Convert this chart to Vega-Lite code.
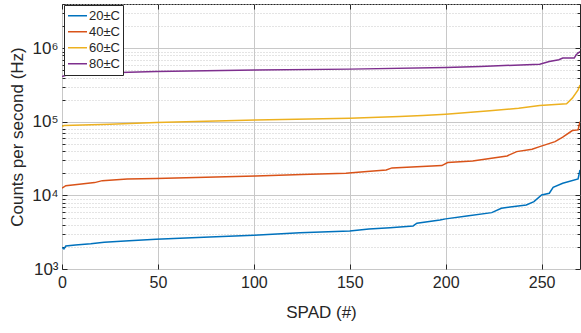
{
  "$schema": "https://vega.github.io/schema/vega-lite/v6.json",
  "autosize": {"type": "none"},
  "width": 518,
  "height": 265,
  "padding": {"left": 62, "top": 4, "right": 1, "bottom": 64},
  "background": "white",
  "config": {
    "font": "Liberation Sans",
    "view": {"stroke": "#262626", "strokeWidth": 1}
  },
  "data": {"values": [
    {"spad": 0, "cps": 1973, "temp": "20±C"},
    {"spad": 1, "cps": 1872, "temp": "20±C"},
    {"spad": 2, "cps": 2055, "temp": "20±C"},
    {"spad": 7, "cps": 2120, "temp": "20±C"},
    {"spad": 15, "cps": 2200, "temp": "20±C"},
    {"spad": 22, "cps": 2308, "temp": "20±C"},
    {"spad": 35, "cps": 2420, "temp": "20±C"},
    {"spad": 49, "cps": 2536, "temp": "20±C"},
    {"spad": 77, "cps": 2725, "temp": "20±C"},
    {"spad": 100, "cps": 2880, "temp": "20±C"},
    {"spad": 124, "cps": 3118, "temp": "20±C"},
    {"spad": 150, "cps": 3288, "temp": "20±C"},
    {"spad": 160, "cps": 3500, "temp": "20±C"},
    {"spad": 171, "cps": 3650, "temp": "20±C"},
    {"spad": 183, "cps": 3846, "temp": "20±C"},
    {"spad": 185, "cps": 4188, "temp": "20±C"},
    {"spad": 197, "cps": 4643, "temp": "20±C"},
    {"spad": 200, "cps": 4800, "temp": "20±C"},
    {"spad": 211, "cps": 5260, "temp": "20±C"},
    {"spad": 224, "cps": 5835, "temp": "20±C"},
    {"spad": 229, "cps": 6700, "temp": "20±C"},
    {"spad": 242, "cps": 7430, "temp": "20±C"},
    {"spad": 246, "cps": 8240, "temp": "20±C"},
    {"spad": 250, "cps": 10160, "temp": "20±C"},
    {"spad": 254, "cps": 10720, "temp": "20±C"},
    {"spad": 256, "cps": 12900, "temp": "20±C"},
    {"spad": 261, "cps": 14650, "temp": "20±C"},
    {"spad": 269, "cps": 16760, "temp": "20±C"},
    {"spad": 270, "cps": 22230, "temp": "20±C"},

    {"spad": 0, "cps": 12530, "temp": "40±C"},
    {"spad": 2, "cps": 13590, "temp": "40±C"},
    {"spad": 9, "cps": 14200, "temp": "40±C"},
    {"spad": 17, "cps": 14940, "temp": "40±C"},
    {"spad": 21, "cps": 15890, "temp": "40±C"},
    {"spad": 34, "cps": 16760, "temp": "40±C"},
    {"spad": 49, "cps": 16940, "temp": "40±C"},
    {"spad": 75, "cps": 17700, "temp": "40±C"},
    {"spad": 101, "cps": 18400, "temp": "40±C"},
    {"spad": 125, "cps": 19200, "temp": "40±C"},
    {"spad": 148, "cps": 20040, "temp": "40±C"},
    {"spad": 159, "cps": 21080, "temp": "40±C"},
    {"spad": 169, "cps": 22230, "temp": "40±C"},
    {"spad": 172, "cps": 23660, "temp": "40±C"},
    {"spad": 198, "cps": 25450, "temp": "40±C"},
    {"spad": 201, "cps": 27940, "temp": "40±C"},
    {"spad": 214, "cps": 29440, "temp": "40±C"},
    {"spad": 223, "cps": 31700, "temp": "40±C"},
    {"spad": 232, "cps": 34450, "temp": "40±C"},
    {"spad": 237, "cps": 39400, "temp": "40±C"},
    {"spad": 245, "cps": 42500, "temp": "40±C"},
    {"spad": 249, "cps": 46100, "temp": "40±C"},
    {"spad": 257, "cps": 53900, "temp": "40±C"},
    {"spad": 261, "cps": 61900, "temp": "40±C"},
    {"spad": 266, "cps": 76200, "temp": "40±C"},
    {"spad": 269, "cps": 77800, "temp": "40±C"},
    {"spad": 270, "cps": 100900, "temp": "40±C"},

    {"spad": 0, "cps": 86300, "temp": "60±C"},
    {"spad": 1, "cps": 89100, "temp": "60±C"},
    {"spad": 25, "cps": 93000, "temp": "60±C"},
    {"spad": 49, "cps": 97800, "temp": "60±C"},
    {"spad": 75, "cps": 102000, "temp": "60±C"},
    {"spad": 101, "cps": 106400, "temp": "60±C"},
    {"spad": 150, "cps": 112300, "temp": "60±C"},
    {"spad": 176, "cps": 118000, "temp": "60±C"},
    {"spad": 188, "cps": 121800, "temp": "60±C"},
    {"spad": 200, "cps": 127200, "temp": "60±C"},
    {"spad": 223, "cps": 141300, "temp": "60±C"},
    {"spad": 238, "cps": 153600, "temp": "60±C"},
    {"spad": 249, "cps": 166700, "temp": "60±C"},
    {"spad": 263, "cps": 175800, "temp": "60±C"},
    {"spad": 266, "cps": 210000, "temp": "60±C"},
    {"spad": 269, "cps": 272000, "temp": "60±C"},
    {"spad": 270, "cps": 318000, "temp": "60±C"},

    {"spad": 0, "cps": 413000, "temp": "80±C"},
    {"spad": 2, "cps": 431000, "temp": "80±C"},
    {"spad": 16, "cps": 459000, "temp": "80±C"},
    {"spad": 49, "cps": 484000, "temp": "80±C"},
    {"spad": 101, "cps": 505000, "temp": "80±C"},
    {"spad": 150, "cps": 521000, "temp": "80±C"},
    {"spad": 200, "cps": 548000, "temp": "80±C"},
    {"spad": 218, "cps": 565000, "temp": "80±C"},
    {"spad": 249, "cps": 609000, "temp": "80±C"},
    {"spad": 254, "cps": 661000, "temp": "80±C"},
    {"spad": 259, "cps": 698000, "temp": "80±C"},
    {"spad": 261, "cps": 736000, "temp": "80±C"},
    {"spad": 267, "cps": 736000, "temp": "80±C"},
    {"spad": 268, "cps": 816000, "temp": "80±C"},
    {"spad": 270, "cps": 906000, "temp": "80±C"}
  ]},
  "resolve": {"axis": {"x": "independent", "y": "independent"}},
  "layer": [
    {
      "mark": {"type": "line", "strokeWidth": 1.5, "clip": true},
      "encoding": {
        "x": {
          "field": "spad", "type": "quantitative",
          "scale": {"domain": [0, 270], "nice": false, "zero": false},
          "axis": {
            "values": [0, 50, 100, 150, 200, 250],
            "title": "SPAD (#)",
            "titleFontSize": 17, "titleFontWeight": "normal", "titleColor": "#262626",
            "titlePadding": 14,
            "labelFontSize": 16, "labelColor": "#262626", "labelPadding": 10,
            "labelFlush": false,
            "domain": false,
            "tickSize": -5, "tickColor": "#262626",
            "grid": true, "gridColor": "#c8c8c8", "gridWidth": 1
          }
        },
        "y": {
          "field": "cps", "type": "quantitative",
          "scale": {"type": "log", "domain": [1000, 4000000], "nice": false},
          "axis": {
            "values": [1000, 2000, 3000, 4000, 5000, 6000, 7000, 8000, 9000,
                       10000, 20000, 30000, 40000, 50000, 60000, 70000, 80000, 90000,
                       100000, 200000, 300000, 400000, 500000, 600000, 700000, 800000, 900000,
                       1000000, 2000000, 3000000, 4000000],
            "labelExpr": "datum.value == 1000 ? '10³' : datum.value == 10000 ? '10⁴' : datum.value == 100000 ? '10⁵' : datum.value == 1000000 ? '10⁶' : ''",
            "title": "Counts per second (Hz)",
            "titleFontSize": 17, "titleFontWeight": "normal", "titleColor": "#262626",
            "titlePadding": 5,
            "labelFontSize": 17, "labelColor": "#262626", "labelPadding": 9,
            "labelFlush": false,
            "domain": false,
            "tickColor": "#262626",
            "tickSize": {"condition": {"test": "indexof([1000,10000,100000,1000000], datum.value) >= 0", "value": -5}, "value": -3},
            "grid": true,
            "gridColor": "#c8c8c8",
            "gridDash": {"condition": {"test": "indexof([1000,10000,100000,1000000], datum.value) >= 0", "value": []}, "value": [1, 2]},
            "gridWidth": 1
          }
        },
        "color": {
          "field": "temp", "type": "nominal",
          "scale": {"domain": ["20±C", "40±C", "60±C", "80±C"], "range": ["#0072BD", "#D95319", "#EDB120", "#7E2F8E"]},
          "legend": {
            "title": null,
            "orient": "none",
            "legendX": 2,
            "legendY": 1,
            "direction": "vertical",
            "fillColor": "white",
            "strokeColor": "#262626",
            "padding": 3,
            "symbolType": "stroke",
            "symbolStrokeWidth": 1.5,
            "symbolSize": 361,
            "clipHeight": 15.5,
            "labelFontSize": 13,
            "labelColor": "#262626",
            "labelOffset": 1,
            "rowPadding": 0
          }
        }
      }
    },
    {
      "mark": {"type": "line", "opacity": 0},
      "encoding": {
        "x": {
          "field": "spad", "type": "quantitative",
          "axis": {
            "orient": "top",
            "values": [0, 50, 100, 150, 200, 250],
            "labels": false, "title": null, "domain": false, "grid": false,
            "tickSize": -5, "tickColor": "#262626"
          }
        },
        "y": {
          "field": "cps", "type": "quantitative",
          "axis": {
            "orient": "right",
            "values": [1000, 2000, 3000, 4000, 5000, 6000, 7000, 8000, 9000,
                       10000, 20000, 30000, 40000, 50000, 60000, 70000, 80000, 90000,
                       100000, 200000, 300000, 400000, 500000, 600000, 700000, 800000, 900000,
                       1000000, 2000000, 3000000, 4000000],
            "labels": false, "title": null, "domain": false, "grid": false,
            "tickColor": "#262626",
            "tickSize": {"condition": {"test": "indexof([1000,10000,100000,1000000], datum.value) >= 0", "value": -5}, "value": -3}
          }
        },
        "color": {"field": "temp", "type": "nominal", "legend": null}
      }
    }
  ]
}
